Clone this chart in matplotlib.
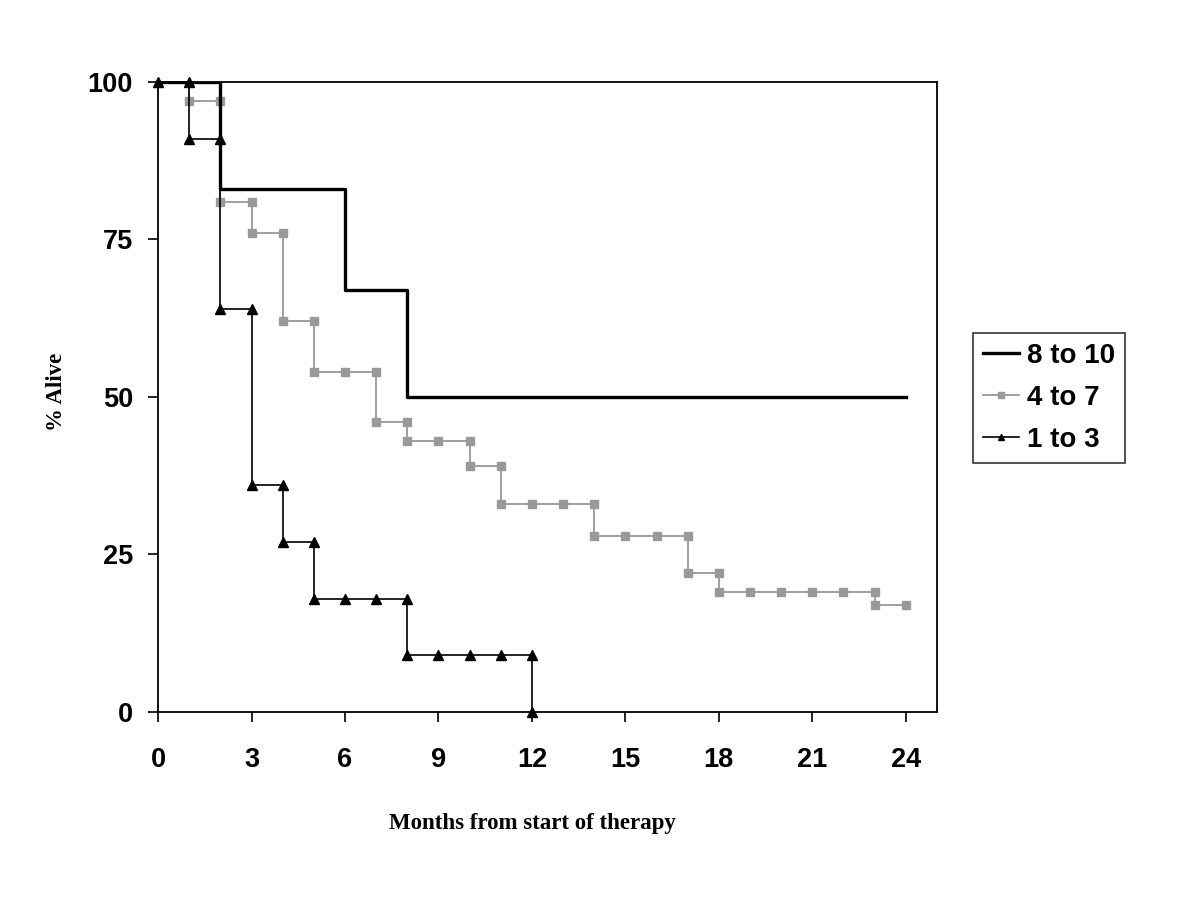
import matplotlib
matplotlib.use("Agg")
import matplotlib.pyplot as plt
from matplotlib.ticker import FixedLocator

# Data (months, % alive)
hi_months = [0, 2, 2, 6, 6, 8, 8, 24]
hi_alive = [100, 100, 83, 83, 67, 67, 50, 50]

mid_months = [0, 1, 1, 2, 2, 3, 3, 4, 4, 5, 5, 6, 7, 7, 8, 8, 9, 10, 10, 11, 11,
              12, 13, 14, 14, 15, 16, 17, 17, 18, 18, 19, 20, 21, 22, 23, 23, 24]
mid_alive = [100, 100, 97, 97, 81, 81, 76, 76, 62, 62, 54, 54, 54, 46, 46, 43, 43, 43, 39, 39, 33,
             33, 33, 33, 28, 28, 28, 28, 22, 22, 19, 19, 19, 19, 19, 19, 17, 17]

low_months = [0, 1, 1, 2, 2, 3, 3, 4, 4, 5, 5, 6, 7, 8, 8, 9, 10, 11, 12, 12]
low_alive = [100, 100, 91, 91, 64, 64, 36, 36, 27, 27, 18, 18, 18, 18, 9, 9, 9, 9, 9, 0]

labels = ["8 to 10", "4 to 7", "1 to 3"]
xticks = [0, 3, 6, 9, 12, 15, 18, 21, 24]
yticks = [0, 25, 50, 75, 100]

fig = plt.figure(figsize=(12, 9), dpi=100)
ax = fig.add_axes([0.1317, 0.2089, 0.6491, 0.7])

ax.plot(hi_months, hi_alive, color="black", lw=2.4, label=labels[0], zorder=3)
ax.plot(mid_months, mid_alive, color="#999999", lw=1.3, marker="s", markersize=6,
        markerfacecolor="#999999", markeredgecolor="#999999", label=labels[1], zorder=2)
ax.plot(low_months, low_alive, color="black", lw=1.2, marker="^", markersize=7.5,
        label=labels[2], zorder=4, clip_on=False)

ax.set_xlim(0, 25)
ax.set_ylim(0, 100)
ax.xaxis.set_major_locator(FixedLocator(xticks))
ax.yaxis.set_major_locator(FixedLocator(yticks))

for s in ax.spines.values():
    s.set_linewidth(1.3)
    s.set_color("black")

ax.tick_params(axis="both", direction="out", length=7, width=1.2, color="black")
ax.tick_params(axis="x", pad=18)
ax.tick_params(axis="y", pad=11)
for lab in ax.get_xticklabels() + ax.get_yticklabels():
    lab.set_fontfamily("Liberation Sans")
    lab.set_fontweight("bold")
    lab.set_fontsize(19.5)

ax.set_ylabel("% Alive", fontfamily="Liberation Serif", fontweight="bold", fontsize=16.5)
ax.set_xlabel("Months from start of therapy", fontfamily="Liberation Serif", fontweight="bold",
              fontsize=16.5)
ax.xaxis.label.set_va("center")
ax.yaxis.label.set_va("center")
ax.xaxis.set_label_coords(0.481, -0.1775)
ax.yaxis.set_label_coords(-0.131, 0.508)

leg = fig.legend(loc="center left", bbox_to_anchor=(0.811, 0.558), bbox_transform=fig.transFigure,
                 prop={"family": "Liberation Sans", "weight": "bold", "size": 20},
                 frameon=True, fancybox=False, handlelength=1.3, handletextpad=0.3,
                 labelspacing=0.58, borderpad=0.35, borderaxespad=0)
leg.get_frame().set_edgecolor("black")
leg.get_frame().set_linewidth(1.2)
for h in leg.legend_handles:
    h.set_markersize(5)

fig.savefig("out.png", dpi=100, facecolor="white")
